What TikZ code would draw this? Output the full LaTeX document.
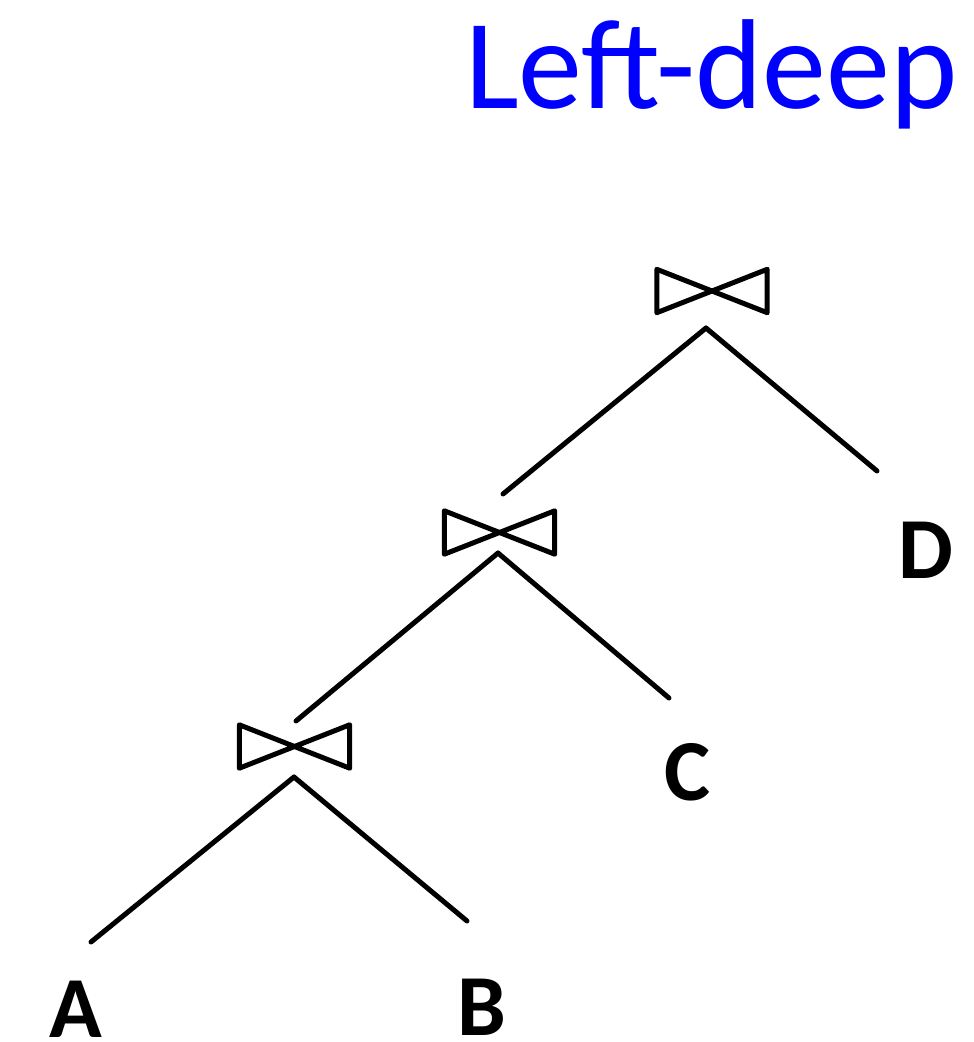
\documentclass[tikz,border=0pt]{standalone}
\usepackage{fontspec}
\setmainfont{Carlito}
\begin{document}
\begin{tikzpicture}[x=1pt,y=-1pt,
  bowtie/.style={minimum width=110pt, minimum height=43pt, inner sep=0pt, draw=none},
  bowline/.style={line width=5pt, line join=round},
  edge/.style={line width=5pt, line cap=round},
  rel/.style={inner sep=0pt, anchor=base, font=\fontsize{87}{87}\selectfont\bfseries},
  title/.style={inner sep=0pt, anchor=base west, text=blue, font=\fontsize{128}{128}\selectfont}]
\useasboundingbox (0,0) rectangle (974,1042);
\node[title] (t) at (465,108) {Left-deep};
% join nodes
\node[bowtie] (j3) at (712,291) {};
\node[bowtie] (j2) at (499.5,532.5) {};
\node[bowtie] (j1) at (294.5,746.5) {};
\foreach \j in {j1,j2,j3}{
  \draw[bowline] (\j.north west) -- (\j.south east) -- (\j.north east) -- (\j.south west) -- cycle;
}
% relations
\node[rel] (A) at (76,1037) {A};
\node[rel] (B) at (482,1035) {B};
\node[rel] (C) at (688,800) {C};
\node[rel] (D) at (926,578) {D};
% connector end points
\coordinate (j3a) at (706,328);
\coordinate (j2a) at (498,553);
\coordinate (j1a) at (294,777);
\coordinate (j2t) at (503,494);
\coordinate (Dt) at (877,471);
\coordinate (j1t) at (296,721);
\coordinate (Ct) at (669,698);
\coordinate (At) at (91,942);
\coordinate (Bt) at (467,921);
\draw[edge] (j3a) -- (j2t);
\draw[edge] (j3a) -- (Dt);
\draw[edge] (j2a) -- (j1t);
\draw[edge] (j2a) -- (Ct);
\draw[edge] (j1a) -- (At);
\draw[edge] (j1a) -- (Bt);
\end{tikzpicture}
\end{document}
